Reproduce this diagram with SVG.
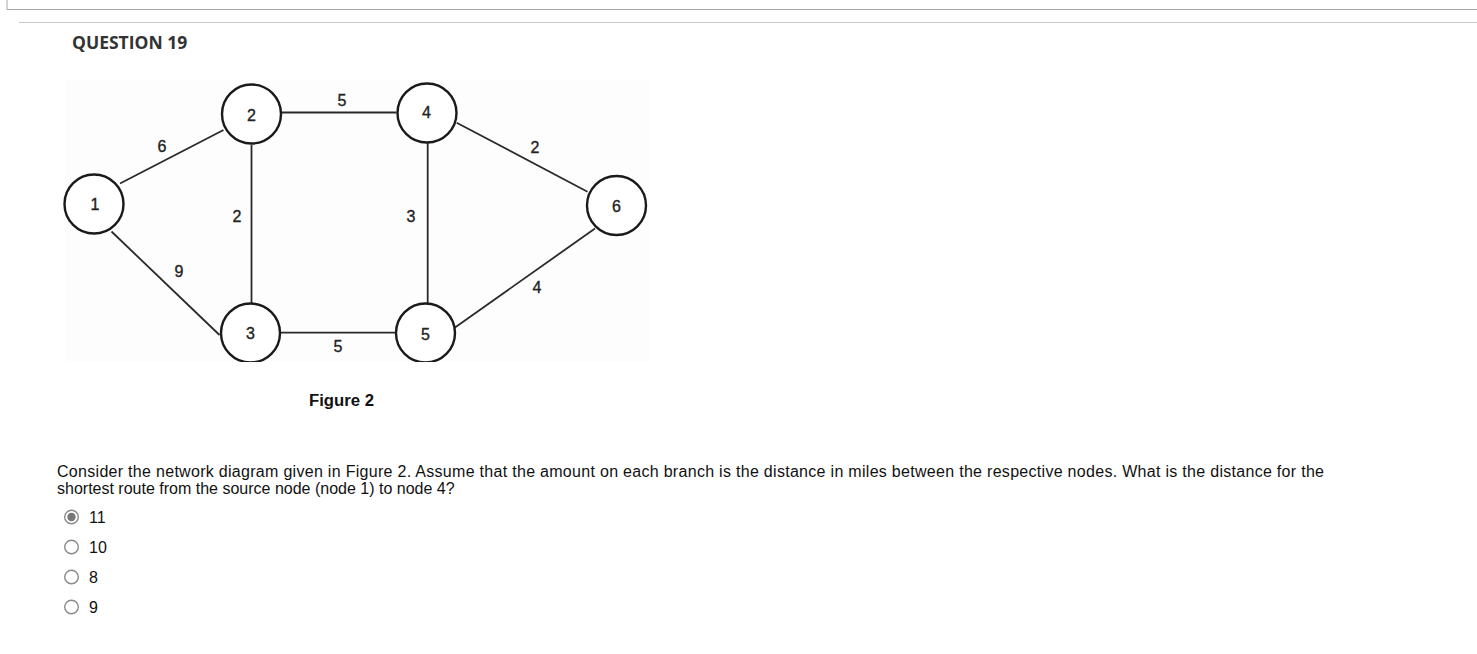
<svg xmlns="http://www.w3.org/2000/svg" width="1477" height="654" viewBox="0 0 1477 654">
<style>
.edge{stroke:#2a2a2a;stroke-width:1.8;fill:none}
.node circle{fill:#fff;stroke:#1a1a1a;stroke-width:2.4}
.nl{font-family:"Liberation Sans",Arial,sans-serif;font-size:16px;fill:#222;stroke:#222;stroke-width:0.35;text-anchor:middle;dominant-baseline:central}
.el{font-family:"Liberation Sans",Arial,sans-serif;font-size:16px;fill:#222;stroke:#222;stroke-width:0.35;text-anchor:middle;dominant-baseline:central}
.body{font-family:"Liberation Sans",Arial,sans-serif;font-size:16px;fill:#111}
.radio{fill:#fff;stroke:#8a8a8a;stroke-width:1.4}
</style>
<rect x="0" y="0" width="1477" height="654" fill="#fff"/>
<rect x="7" y="-2" width="1480" height="11.5" fill="#fff" stroke="#a8a8a8" stroke-width="1"/>
<line x1="19" y1="22.5" x2="1477" y2="22.5" stroke="#c8c8c8" stroke-width="1"/>
<text x="72" y="49" font-family="'Open Sans','Liberation Sans',sans-serif" font-size="17.5" font-weight="bold" fill="#333">QUESTION 19</text>
<rect x="65" y="80" width="584" height="282" fill="#fdfdfd"/>
<g id="connectors">
<line class="edge" x1="120" y1="183.5" x2="223.5" y2="130"/>
<line class="edge" x1="111.5" y1="231.5" x2="219.5" y2="335"/>
<line class="edge" x1="282" y1="112.5" x2="396.5" y2="112.5"/>
<line class="edge" x1="251.5" y1="145" x2="251.5" y2="303"/>
<line class="edge" x1="281" y1="332.7" x2="395.5" y2="332.7"/>
<line class="edge" x1="427.7" y1="143" x2="427.7" y2="303"/>
<line class="edge" x1="456.7" y1="122.7" x2="587.5" y2="191.7"/>
<line class="edge" x1="455" y1="327.5" x2="595" y2="228.5"/>
</g>
<g id="edge-labels">
<text class="el" x="162" y="146">6</text>
<text class="el" x="342" y="100">5</text>
<text class="el" x="535" y="147">2</text>
<text class="el" x="237" y="216">2</text>
<text class="el" x="411" y="216">3</text>
<text class="el" x="179" y="271">9</text>
<text class="el" x="537" y="287">4</text>
<text class="el" x="338" y="346">5</text>
</g>
<g id="node1" class="node"><circle cx="94" cy="204" r="29.5"/><text class="nl" x="95" y="204">1</text></g>
<g id="node2" class="node"><circle cx="251.5" cy="114" r="29.5"/><text class="nl" x="251.5" y="115">2</text></g>
<g id="node3" class="node"><circle cx="250.5" cy="333" r="29.5"/><text class="nl" x="250.5" y="333.5">3</text></g>
<g id="node4" class="node"><circle cx="427" cy="113" r="29.5"/><text class="nl" x="426.5" y="112.5">4</text></g>
<g id="node5" class="node"><circle cx="425.5" cy="333" r="29.5"/><text class="nl" x="425.5" y="334">5</text></g>
<g id="node6" class="node"><circle cx="616.5" cy="205.5" r="29.5"/><text class="nl" x="616.5" y="206">6</text></g>
<rect x="60" y="362" width="600" height="20" fill="#fff"/>
<text x="309" y="406" font-family="'Liberation Sans',Arial,sans-serif" font-size="16" font-weight="bold" fill="#111" textLength="65" lengthAdjust="spacingAndGlyphs">Figure 2</text>
<text class="body" x="57" y="477" textLength="1267" lengthAdjust="spacing">Consider the network diagram given in Figure 2. Assume that the amount on each branch is the distance in miles between the respective nodes. What is the distance for the</text>
<text class="body" x="57" y="494">shortest route from the source node (node 1) to node 4?</text>
<g id="options">
<circle class="radio" cx="71.5" cy="517" r="6.8"/>
<circle cx="71.5" cy="517" r="4.2" fill="#777"/>
<text class="body" x="89" y="523" font-size="15">11</text>
<circle class="radio" cx="71.5" cy="547" r="6.8"/>
<text class="body" x="89" y="553" font-size="15">10</text>
<circle class="radio" cx="71.5" cy="577" r="6.8"/>
<text class="body" x="89" y="583" font-size="15">8</text>
<circle class="radio" cx="71.5" cy="607" r="6.8"/>
<text class="body" x="89" y="613" font-size="15">9</text>
</g>
</svg>
